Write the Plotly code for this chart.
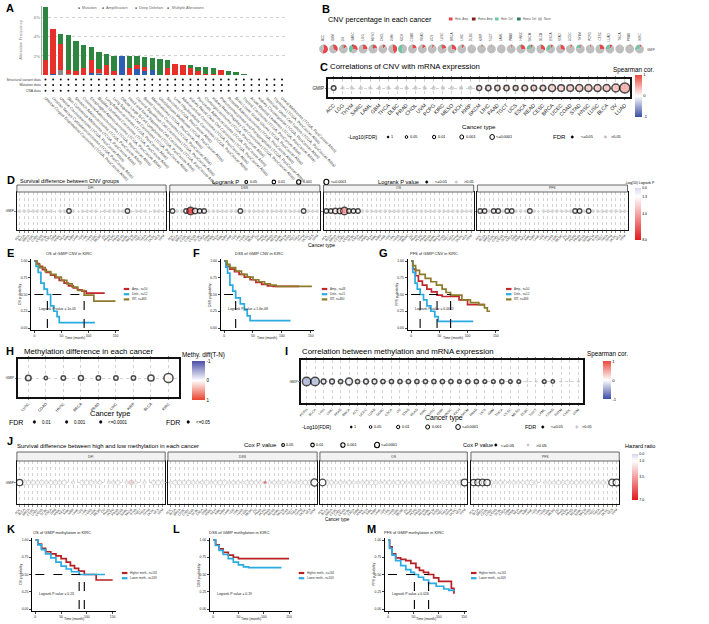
import plotly.graph_objects as go

W, H = 709, 624
FONT = "Liberation Sans, Arial, sans-serif"

# ======================= DATA =======================
# ---- A: alteration frequency (cBioPortal) ----
A_studies = [
    "Uterine Corpus Endometrial Carcinoma (TCGA, PanCancer Atlas)",
    "Ovarian Serous Cystadenocarcinoma (TCGA, PanCancer Atlas)",
    "Uterine Carcinosarcoma (TCGA, PanCancer Atlas)",
    "Skin Cutaneous Melanoma (TCGA, PanCancer Atlas)",
    "Stomach Adenocarcinoma (TCGA, PanCancer Atlas)",
    "Colorectal Adenocarcinoma (TCGA, PanCancer Atlas)",
    "Esophageal Adenocarcinoma (TCGA, PanCancer Atlas)",
    "Bladder Urothelial Carcinoma (TCGA, PanCancer Atlas)",
    "Lung Adenocarcinoma (TCGA, PanCancer Atlas)",
    "Lung Squamous Cell Carcinoma (TCGA, PanCancer Atlas)",
    "Diffuse Large B-Cell Lymphoma (TCGA, PanCancer Atlas)",
    "Head and Neck Squamous Cell Carcinoma (TCGA, PanCancer Atlas)",
    "Cervical Squamous Cell Carcinoma (TCGA, PanCancer Atlas)",
    "Breast Invasive Carcinoma (TCGA, PanCancer Atlas)",
    "Mesothelioma (TCGA, PanCancer Atlas)",
    "Glioblastoma Multiforme (TCGA, PanCancer Atlas)",
    "Sarcoma (TCGA, PanCancer Atlas)",
    "Liver Hepatocellular Carcinoma (TCGA, PanCancer Atlas)",
    "Adrenocortical Carcinoma (TCGA, PanCancer Atlas)",
    "Kidney Renal Clear Cell Carcinoma (TCGA, PanCancer Atlas)",
    "Pancreatic Adenocarcinoma (TCGA, PanCancer Atlas)",
    "Cholangiocarcinoma (TCGA, PanCancer Atlas)",
    "Kidney Renal Papillary Cell Carcinoma (TCGA, PanCancer Atlas)",
    "Pheochromocytoma and Paraganglioma (TCGA, PanCancer Atlas)",
    "Prostate Adenocarcinoma (TCGA, PanCancer Atlas)",
    "Brain Lower Grade Glioma (TCGA, PanCancer Atlas)",
    "Thyroid Carcinoma (TCGA, PanCancer Atlas)",
    "Acute Myeloid Leukemia (TCGA, PanCancer Atlas)",
    "Kidney Chromophobe (TCGA, PanCancer Atlas)",
    "Testicular Germ Cell Tumors (TCGA, PanCancer Atlas)",
    "Thymoma (TCGA, PanCancer Atlas)",
    "Uveal Melanoma (TCGA, PanCancer Atlas)",
]
A_mutation = [5.6, 0.0, 1.05, 3.7, 3.15, 2.45, 1.33, 1.8, 1.15, 1.6, 0.0, 1.23, 1.0, 1.03, 1.3, 1.7,
              0.78, 0.0, 0.0, 0.25, 0.47, 0.7, 0.62, 0.0, 0.38, 0.35, 0.15, 0, 0, 0, 0, 0]
A_amplification = [1.5, 4.7, 2.8, 0.4, 0.45, 0.7, 1.37, 0.35, 1.05, 0.4, 0.0, 0.77, 0.4, 0.42, 0.0, 0.0,
                   0.77, 1.2, 1.1, 0.75, 0.4, 0.1, 0.15, 0.5, 0, 0, 0, 0, 0, 0, 0, 0]
A_deep_deletion = [0, 0.15, 0, 0, 0, 0, 0.2, 0.15, 0, 0, 2.0, 0, 0.6, 0.45, 0.5, 0,
                   0, 0, 0, 0, 0, 0, 0, 0, 0, 0, 0, 0, 0, 0, 0, 0]
A_multiple = [0.05, 0, 0.5, 0.15, 0, 0, 0, 0.1, 0, 0, 0, 0, 0, 0, 0, 0,
              0, 0, 0, 0, 0, 0, 0, 0, 0, 0, 0, 0, 0, 0, 0, 0]
A_rows = ["Structural variant data", "Mutation data", "CNA data"]
A_legend = ["Mutation", "Amplification", "Deep Deletion", "Multiple Alterations"]

# ---- B: CNV percentage pies ----
B_cancers = ["ACC", "GBM", "OV", "SARC", "LGG", "MESO", "CHOL", "UVM", "KICH", "COAD", "READ",
             "UCS", "LUSC", "BRCA", "LIHC", "DLBC", "KIRP", "TGCT", "LAML", "PAAD", "HNSC", "SKCM",
             "BLCA", "ESCA", "STAD", "UCEC", "THYM", "PCPG", "CESC", "LUAD", "THCA", "PRAD", "KIRC"]
B_hete_amp = [.55, .35, .15, .30, .25, .20, .12, .45, .05, .20, .15, .08, .22, .30, .10, .03, .06,
              .04, .02, .06, .25, .08, .30, .10, .30, .08, .06, .05, .25, .10, .03, .05, .08]
B_homo_amp = [0, .02, 0, .05, 0, 0, 0, 0, 0, 0, 0, 0, 0, 0, 0, 0, 0,
              0, 0, 0, 0, 0, 0, 0, 0, 0, 0, 0, 0, 0, 0, 0, 0]
B_hete_del = [.05, .05, .10, .35, .05, .10, .05, .05, .45, .05, .05, .04, .08, .05, .06, .03, .04,
              .02, .01, .04, .08, .25, .06, .30, .05, .04, .20, .03, .05, .25, .02, .03, .30]
B_homo_del = [0, 0, 0, .02, 0, 0, 0, 0, .02, 0, 0, 0, 0, 0, 0, 0, 0,
              0, 0, 0, 0, 0, 0, .02, 0, 0, 0, 0, 0, 0, 0, 0, 0]
B_none = [.40, .58, .75, .28, .70, .70, .83, .50, .48, .75, .80, .88, .70, .65, .84, .94, .90,
          .94, .97, .90, .67, .67, .64, .58, .65, .88, .74, .92, .70, .65, .95, .92, .62]
B_legend = ["Hete. Amp", "Homo. Amp", "Hete. Del", "Homo. Del", "None"]

# ---- C: CNV vs mRNA spearman ----
C_cancers = ["ACC", "LGG", "THYM", "SARC", "LAML", "GBM", "THCA", "DLBC", "PRAD", "CHOL", "UVM",
             "PCPG", "KIRC", "MESO", "KICH", "KIRP", "SKCM", "LIHC", "PAAD", "TGCT", "UCS", "ESCA",
             "READ", "CESC", "BRCA", "UCEC", "COAD", "STAD", "HNSC", "LUSC", "BLCA", "OV", "LUAD"]
C_cor = [-0.05, 0.02, 0.03, 0.05, 0.04, 0.05, 0.06, 0.08, 0.08, 0.10, 0.10, 0.10, 0.11, 0.12, 0.12,
         0.13, 0.20, 0.22, 0.24, 0.25, 0.26, 0.27, 0.28, 0.29, 0.30, 0.31, 0.32, 0.33, 0.34, 0.35,
         0.37, 0.42, 0.55]
C_mlog_fdr = [1.4, 0.3, 0.4, 0.5, 0.3, 0.4, 0.6, 0.5, 0.7, 0.6, 0.8, 0.7, 0.9, 0.8, 0.9, 1.0,
              2.5, 3.0, 3.0, 3.0, 2.2, 4.0, 4.0, 4.0, 10.0, 8.0, 8.0, 10.0, 10.0, 10.0, 10.0, 14.0, 30.0]

# ---- D: survival difference between CNV groups (-log10 logrank P) ----
TYPES33 = ["ACC", "BLCA", "BRCA", "CESC", "CHOL", "COAD", "DLBC", "ESCA", "GBM", "HNSC", "KICH",
           "KIRC", "KIRP", "LAML", "LGG", "LIHC", "LUAD", "LUSC", "MESO", "OV", "PAAD", "PCPG",
           "PRAD", "READ", "SARC", "SKCM", "STAD", "TGCT", "THCA", "THYM", "UCEC", "UCS", "UVM"]
D_facets = ["DFI", "DSS", "OS", "PFS"]
D_DFI = [0.3, 0.2, 0.5, 0.4, 0.2, 0.6, 0.3, 0.4, None, 0.5, 0.3, 1.9, 0.4, None, 0.6, 0.2, 0.5,
         0.3, None, 0.7, 0.4, 0.3, 0.2, 0.5, 1.6, None, 0.4, 0.3, 0.6, None, 0.5, 0.2, None]
D_DSS = [1.5, 0.4, 0.3, 1.6, 8.0, 2.0, 1.7, 1.5, 0.4, 0.3, 0.6, 0.5, 0.4, 0.3, 0.2, 1.4, 0.5,
         0.3, 0.4, 0.6, 0.2, 0.5, 0.3, 0.4, 0.3, 0.6, 0.2, 0.3, 0.4, 1.6, 0.5, 0.3, 0.2]
D_OS = [1.5, 1.6, 2.1, 2.3, 5.0, 1.8, 1.5, 1.4, 0.5, 0.4, 0.3, 0.6, 0.2, 0.4, 0.5, 0.3, 0.6,
        0.4, 0.2, 0.5, 0.3, 0.4, 0.6, 0.2, 0.3, 0.5, 0.4, 0.3, 0.6, 0.2, 0.4, 0.3, 0.5]
D_PFS = [1.5, 1.6, 0.4, 1.7, 1.5, 0.3, 1.4, 1.6, 0.5, 0.3, 0.4, 1.8, 0.2, None, 0.5, 0.3, 0.6,
         0.4, 0.2, 0.5, 0.3, 1.5, 1.6, 0.2, 1.4, 0.5, 0.4, 0.3, 0.6, 0.2, 0.4, 0.3, 0.5]

# ---- E/F/G: KM curves, CNV groups in KIRC ----
E_amp_t = [0, 4, 9, 15, 22, 30, 38, 46, 55, 63, 72, 80, 88, 96, 130]
E_amp_s = [1, 0.96, 0.92, 0.87, 0.83, 0.79, 0.75, 0.71, 0.67, 0.63, 0.60, 0.57, 0.55, 0.52, 0.52]
E_del_t = [0, 3, 7, 12, 18, 24, 30, 36, 42, 46, 112]
E_del_s = [1, 0.92, 0.83, 0.67, 0.58, 0.50, 0.33, 0.25, 0.17, 0.08, 0.08]
E_wt_t = [0, 5, 10, 20, 30, 40, 50, 60, 70, 80, 92, 110, 150]
E_wt_s = [1, 0.95, 0.90, 0.84, 0.80, 0.76, 0.71, 0.66, 0.61, 0.56, 0.49, 0.40, 0.40]

F_amp_t = [0, 4, 10, 18, 26, 35, 45, 55, 65, 75, 85, 130]
F_amp_s = [1, 0.92, 0.88, 0.84, 0.80, 0.76, 0.72, 0.68, 0.65, 0.63, 0.62, 0.62]
F_del_t = [0, 3, 6, 10, 15, 20, 28, 35, 40, 45, 115]
F_del_s = [1, 0.91, 0.82, 0.64, 0.55, 0.45, 0.36, 0.27, 0.18, 0.11, 0.11]
F_wt_t = [0, 5, 10, 20, 30, 40, 50, 60, 70, 80, 90, 152]
F_wt_s = [1, 0.95, 0.90, 0.85, 0.80, 0.76, 0.72, 0.69, 0.66, 0.64, 0.62, 0.62]

G_amp_t = [0, 3, 8, 13, 20, 28, 36, 46, 55, 80, 85, 100, 130]
G_amp_s = [1, 0.88, 0.78, 0.70, 0.64, 0.58, 0.54, 0.49, 0.47, 0.47, 0.42, 0.35, 0.35]
G_del_t = [0, 3, 7, 11, 16, 22, 28, 35, 42, 48, 110]
G_del_s = [1, 0.83, 0.67, 0.58, 0.50, 0.42, 0.33, 0.25, 0.17, 0.10, 0.10]
G_wt_t = [0, 3, 8, 15, 25, 35, 45, 55, 62, 70, 90, 105, 120, 130, 135, 140]
G_wt_s = [1, 0.93, 0.86, 0.80, 0.74, 0.69, 0.64, 0.58, 0.53, 0.49, 0.42, 0.38, 0.35, 0.30, 0.25, 0.25]

EFG_names = ["Amp., n=50", "Dele., n=12", "WT, n=468"]
F_names = ["Amp., n=48", "Dele., n=11", "WT, n=460"]

# ---- H: methylation difference ----
H_types = ["LUSC", "COAD", "HNSC", "BRCA", "PRAD", "LIHC", "KIRP", "BLCA", "KIRC"]
H_diff = [0.02, 0.01, 0.02, 0.03, 0.02, 0.02, 0.03, 0.04, 0.05]
H_mlog_fdr = [6.0, 2.2, 4.0, 5.0, 4.0, 4.0, 4.0, 7.0, 12.0]

# ---- I: methylation vs mRNA ----
I_types = ["PCPG", "BLCA", "LGG", "LIHC", "PAAD", "BRCA", "ACC", "UCEC", "LUAD", "SARC", "ESCA",
           "OV", "STAD", "READ", "KIRC", "LUSC", "KIRP", "HNSC", "KICH", "SKCM", "PRAD", "UCS",
           "GBM", "THCA", "CESC", "MESO", "DLBC", "TGCT", "LAML", "COAD", "THYM", "CHOL", "UVM"]
I_cor = [-0.50, -0.45, -0.12, -0.10, -0.10, -0.12, -0.08, -0.10, -0.08, -0.10, -0.10, -0.08,
         -0.08, -0.10, -0.08, -0.08, -0.10, -0.08, -0.10, -0.08, -0.06, -0.08, -0.06, -0.06,
         -0.06, -0.06, -0.05, -0.05, -0.06, -0.06, -0.04, -0.04, -0.02]
I_mlog_fdr = [12, 12, 5, 5, 4, 9, 4, 5, 5, 4, 4, 4, 4, 4, 4, 4, 4, 4, 3, 4, 4, 3, 3, 4, 3, 3,
              0.8, 0.9, 3, 2.5, 1.0, 0.5, 0.7]

# ---- J: survival between high/low methylation (-log10 cox P, hazard ratio) ----
J_DFI_p = [1.5, 0.9, 0.7, 0.8, 0.6, 0.9, 0.5, 0.7, 0.8, 0.6, 0.9, None, 0.3, None, 0.7, 0.9, 0.8,
           0.4, 0.6, None, 0.3, 0.5, 0.8, None, 0.4, 0.9, 0.3, None, 0.4, None, 0.7, 0.9, 0.5]
J_DFI_hr = [1.0, 1.1, 0.9, 1.2, 1.0, 0.9, 1.1, 1.0, 1.2, 0.9, 1.0, None, 1.1, None, 0.9, 1.0, 1.1,
            1.0, 0.9, None, 1.0, 1.2, 0.9, None, 1.0, 2.6, 1.1, None, 1.0, None, 0.9, 1.1, 1.0]
J_DSS_p = [0.3, 0.8, 0.9, 0.7, 0.8, 0.6, 0.4, 0.5, 0.9, 0.3, 0.7, 0.8, 0.9, 0.4, 0.6, 0.5, 0.3,
           0.8, 0.7, 0.6, 0.5, 0.3, 0.4, 0.6, 0.5, 0.7, 0.4, 0.3, 0.5, 0.6, 0.8, 0.9, 1.8]
J_DSS_hr = [1.0, 1.1, 0.9, 1.0, 1.1, 1.0, 0.9, 1.0, 1.1, 1.0, 0.9, 1.0, 1.1, 1.0, 0.9, 1.0, 1.1,
            1.0, 0.9, 1.0, 1.1, 6.0, 0.9, 1.0, 1.1, 1.0, 0.9, 1.0, 1.1, 1.0, 0.9, 1.0, 1.0]
J_OS_p = [1.6, 0.9, 0.7, 0.4, 0.6, 0.3, 0.8, 0.4, 0.3, 0.5, 0.7, 0.9, 0.8, 0.3, 0.5, 0.7, 0.4,
          0.8, 0.6, 0.3, 0.5, 0.7, 0.6, 0.4, 0.3, 0.5, 0.6, 0.4, 0.7, 0.8, 0.6, 0.9, 1.7]
J_OS_hr = [1.0, 1.1, 0.9, 1.0, 1.1, 1.0, 0.9, 1.0, 1.1, 1.0, 0.9, 1.0, 1.1, 1.0, 0.9, 1.0, 1.1,
           1.0, 0.9, 1.0, 1.1, 1.0, 0.9, 1.0, 1.1, 1.0, 0.9, 1.0, 1.1, 1.0, 0.9, 1.0, 1.0]
J_PFS_p = [1.5, 1.6, 1.6, 1.5, 0.6, 0.4, 0.7, 0.5, 0.3, 0.6, 0.4, 0.5, 0.8, 0.9, 0.4, None, 0.3,
           0.5, 0.4, 0.7, 0.6, 0.8, 0.5, 0.7, 0.4, 0.6, 0.5, 0.7, 0.4, 0.6, 0.5, 1.6, 1.7]
J_PFS_hr = [1.0, 1.1, 0.9, 1.0, 1.1, 1.0, 0.9, 1.0, 1.1, 1.0, 0.9, 1.0, 1.1, 1.0, 0.9, None, 1.1,
            1.0, 0.9, 1.0, 1.1, 1.0, 0.9, 1.0, 1.1, 1.0, 0.9, 1.0, 1.1, 1.0, 0.9, 1.0, 1.0]

# ---- K/L/M: KM by methylation level in KIRC ----
K_hi_t = [0, 5, 12, 20, 30, 40, 50, 60, 68, 76, 84, 95, 118, 150]
K_hi_s = [1, 0.94, 0.88, 0.83, 0.80, 0.77, 0.73, 0.68, 0.63, 0.59, 0.55, 0.50, 0.42, 0.42]
K_lo_t = [0, 5, 12, 20, 30, 40, 50, 60, 70, 85, 135]
K_lo_s = [1, 0.93, 0.86, 0.80, 0.74, 0.68, 0.62, 0.58, 0.54, 0.50, 0.50]
L_hi_t = [0, 5, 12, 20, 30, 40, 50, 150]
L_hi_s = [1, 0.93, 0.87, 0.82, 0.78, 0.75, 0.73, 0.73]
L_lo_t = [0, 5, 12, 20, 30, 40, 50, 60, 70, 135]
L_lo_s = [1, 0.92, 0.85, 0.79, 0.73, 0.68, 0.64, 0.61, 0.60, 0.60]
M_hi_t = [0, 3, 8, 15, 25, 35, 45, 55, 62, 70, 80, 90, 100, 120, 125, 130]
M_hi_s = [1, 0.90, 0.80, 0.74, 0.72, 0.70, 0.66, 0.60, 0.56, 0.53, 0.50, 0.45, 0.40, 0.40, 0.30, 0.22]
M_lo_t = [0, 3, 8, 15, 25, 35, 45, 52, 60, 70, 80, 95, 110, 120, 130]
M_lo_s = [1, 0.88, 0.78, 0.70, 0.63, 0.57, 0.53, 0.50, 0.46, 0.42, 0.37, 0.33, 0.29, 0.27, 0.26]
K_names = ["Higher meth., n=161", "Lower meth., n=169"]
L_names = ["Higher meth., n=161", "Lower meth., n=163"]
M_names = ["Higher meth., n=161", "Lower meth., n=169"]

# ======================= HELPERS =======================
fig = go.Figure()
lay = {}
shapes, annots = [], []


def px(x):
    return x / W


def py(y):
    return 1 - y / H


_cnt = [0]


def new_axes(x0, x1, y0, y1, xkw=None, ykw=None):
    _cnt[0] += 1
    k = _cnt[0]
    s = '' if k == 1 else str(k)
    base = dict(showgrid=False, zeroline=False, showticklabels=False, ticks='', fixedrange=True)
    xa = dict(base)
    xa.update(domain=[px(x0), px(x1)], anchor='y' + s)
    xa.update(xkw or {})
    ya = dict(base)
    ya.update(domain=[py(y1), py(y0)], anchor='x' + s)
    ya.update(ykw or {})
    lay['xaxis' + s] = xa
    lay['yaxis' + s] = ya
    return 'x' + s, 'y' + s


def txt(x, y, s, size=5, color='#000', xa='left', ya='middle', angle=0):
    annots.append(dict(x=px(x), y=py(y), xref='paper', yref='paper', text=s, showarrow=False,
                       font=dict(size=size, color=color, family=FONT), xanchor=xa, yanchor=ya,
                       textangle=angle, borderpad=0))


def rect(x0, y0, x1, y1, fill='rgba(0,0,0,0)', line='#000', lw=1):
    shapes.append(dict(type='rect', xref='paper', yref='paper', x0=px(x0), x1=px(x1),
                       y0=py(y1), y1=py(y0), fillcolor=fill, line=dict(color=line, width=lw)))


def circ(cx, cy, d, fill='#fff', line='#000', lw=1.0):
    r = d / 2
    shapes.append(dict(type='circle', xref='paper', yref='paper', x0=px(cx - r), x1=px(cx + r),
                       y0=py(cy + r), y1=py(cy - r), fillcolor=fill,
                       line=dict(color=line, width=lw)))


def hline(x0, x1, y, color, lw=1.5):
    shapes.append(dict(type='line', xref='paper', yref='paper', x0=px(x0), x1=px(x1),
                       y0=py(y), y1=py(y), line=dict(color=color, width=lw)))


def letter(x, y, ch):
    txt(x, y, "<b>%s</b>" % ch, size=11)


def cbar(x, ytop, length, thick, tickvals, ticktext, fs=4):
    return dict(x=px(x), xanchor='left', y=py(ytop), yanchor='top', len=length, lenmode='pixels',
                thickness=thick, thicknessmode='pixels', tickvals=tickvals, ticktext=ticktext,
                tickfont=dict(size=fs, family=FONT), outlinewidth=0, xpad=0, ypad=0, ticks='')


GRID = dict(showgrid=True, gridcolor='#d3d3d3', griddash='dot', gridwidth=0.6)


def dot_axes(x0, x1, y0, y1, cats, tickfs, ylab=True, yfs=4, lw=1.6, xlabs=True):
    n = len(cats)
    xk = dict(type='category', categoryorder='array', categoryarray=cats, range=[-0.6, n - 0.4],
              dtick=1, showticklabels=xlabs, tickangle=-45, tickfont=dict(size=tickfs, color='#222'),
              ticks='outside', ticklen=1.5, tickcolor='#888', tickwidth=0.5,
              showline=True, linecolor='#111', linewidth=lw, mirror='ticks')
    xk.update(GRID)
    yk = dict(type='category', range=[-0.8, 0.8], showticklabels=ylab,
              tickfont=dict(size=yfs, color='#222'), ticks='outside', ticklen=1.5, tickcolor='#888',
              showline=True, linecolor='#111', linewidth=lw, mirror=True)
    yk.update(GRID)
    return new_axes(x0, x1, y0, y1, xk, yk)


def dots(xa, ya, cats, mlog, colvals, thr, size_fn, cs, cmin, cmax, ns_fill=None, ns_line='#BDBDBD',
         ns_lw=0.8, sig_lw=1.4, colorbar=None, tf=lambda v: v):
    groups = {True: ([], [], []), False: ([], [], [])}
    for c, m, v in zip(cats, mlog, colvals):
        if m is None:
            continue
        g = groups[m >= thr]
        g[0].append(c)
        g[1].append(size_fn(m))
        g[2].append(tf(v))
    xs, ss, cc = groups[False]
    if xs:
        col = ns_fill if ns_fill else cc
        fig.add_trace(go.Scatter(x=xs, y=['GMIP'] * len(xs), mode='markers', xaxis=xa, yaxis=ya,
                                 hoverinfo='skip',
                                 marker=dict(size=ss, color=col, colorscale=cs, cmin=cmin, cmax=cmax,
                                             line=dict(color=ns_line, width=ns_lw))))
    xs, ss, cc = groups[True]
    mk = dict(size=ss, color=cc, colorscale=cs, cmin=cmin, cmax=cmax,
              line=dict(color='#000', width=sig_lw))
    if colorbar:
        mk.update(showscale=True, colorbar=colorbar)
    fig.add_trace(go.Scatter(x=xs, y=['GMIP'] * len(xs), mode='markers', xaxis=xa, yaxis=ya,
                             hoverinfo='skip', marker=mk))


def median_time(t, s):
    for ti, si in zip(t, s):
        if si <= 0.5:
            return ti
    return None


def km_panel(x0px, ppm, ytop, ybot, curves, title, ytitle, pval, leg_x, leg_y, title_x, ptxt_y):
    xr = [-6, 156]
    yr = [-0.03, 1.03]
    ppu = ybot - ytop
    axk = dict(showline=True, linecolor='#000', linewidth=1.3, ticks='outside', ticklen=2,
               tickwidth=0.7, showticklabels=True, tickfont=dict(size=3.4, color='#222'))
    xk = dict(axk)
    xk.update(range=xr, tickvals=[0, 50, 100, 150])
    yk = dict(axk)
    yk.update(range=yr, tickvals=[0, 0.25, 0.5, 0.75, 1.0],
              ticktext=['0.00', '0.25', '0.50', '0.75', '1.00'])
    xa, ya = new_axes(x0px + xr[0] * ppm, x0px + xr[1] * ppm,
                      ybot - yr[1] * ppu, ybot - yr[0] * ppu, xk, yk)
    meds = []
    for t, s, col, name in curves:
        fig.add_trace(go.Scatter(x=t, y=s, mode='lines', line=dict(shape='hv', color=col, width=1.7),
                                 xaxis=xa, yaxis=ya, hoverinfo='skip'))
        m = median_time(t, s)
        if m is not None:
            meds.append(m)
    if meds:
        fig.add_trace(go.Scatter(x=[0, max(meds)], y=[0.5, 0.5], mode='lines', xaxis=xa, yaxis=ya,
                                 line=dict(color='#000', width=1.1, dash='dash'), hoverinfo='skip'))
        for m in meds:
            fig.add_trace(go.Scatter(x=[m, m], y=[0, 0.5], mode='lines', xaxis=xa, yaxis=ya,
                                     line=dict(color='#000', width=1.1, dash='dash'),
                                     hoverinfo='skip'))
    annots.append(dict(x=4, y=ptxt_y, xref=xa, yref=ya, text="Logrank P value = " + pval,
                       showarrow=False, xanchor='left', yanchor='middle',
                       font=dict(size=3.4, family=FONT, color='#222')))
    for i, (t, s, col, name) in enumerate(curves):
        yy = leg_y + i * 5.2
        hline(leg_x, leg_x + 6, yy, col, 2.2)
        txt(leg_x + 8, yy, name, size=3, color='#333')
    txt(title_x, ytop - 8, title, size=4, color='#222')
    txt(x0px - 16, (ytop + ybot) / 2, ytitle, size=3.4, color='#222', xa='center', angle=-90)
    txt(x0px + 75 * ppm, ybot + 10, "Time (month)", size=3.4, color='#222', xa='center')


# ======================= PANEL A =======================
letter(1, 8, "A")
nA = len(A_studies)
xa, ya = new_axes(40.9, 306, 5.6, 75,
                  dict(type='category', categoryorder='array', categoryarray=A_studies,
                       range=[-0.5, nA - 0.5]),
                  dict(range=[0, 7.3], showgrid=True, gridcolor='#cfcfcf', griddash='dot',
                       gridwidth=0.6, tickvals=[2, 4, 6], ticktext=['2%', '4%', '6%'],
                       showticklabels=True, tickfont=dict(size=4.3, color='#777'),
                       showline=True, linecolor='#aaa', linewidth=0.6))
for vals, col in [(A_deep_deletion, '#2F5FB3'), (A_multiple, '#8E8E8E'),
                  (A_amplification, '#E8302A'), (A_mutation, '#2E8540')]:
    fig.add_trace(go.Bar(x=A_studies, y=vals, width=0.72, xaxis=xa, yaxis=ya, hoverinfo='skip',
                         marker=dict(color=col, line=dict(width=0))))
txt(17, 40, "Alteration Frequency", size=4.3, color='#888', xa='center', angle=-90)
for lab, xx in zip(A_legend, [81, 107, 143, 178]):
    txt(xx, 8, "●", size=3.5, color='#222', xa='center')
    txt(xx + 3, 8, lab, size=3.8, color='#666')

xr_, yr_ = new_axes(40.9, 306, 76, 94,
                    dict(type='category', categoryorder='array', categoryarray=A_studies,
                         range=[-0.5, nA - 0.5], dtick=1, showticklabels=True, tickangle=45,
                         tickfont=dict(size=4, color='#444')),
                    dict(type='category', categoryorder='array', categoryarray=A_rows[::-1],
                         range=[-0.6, 2.6], showticklabels=True, tickfont=dict(size=3.5, color='#444')))
for r in A_rows:
    fig.add_trace(go.Scatter(x=A_studies, y=[r] * nA, mode='markers', xaxis=xr_, yaxis=yr_,
                             hoverinfo='skip', marker=dict(size=2, color='#111')))

# ======================= PANEL B =======================
letter(344, 9, "B")
txt(351, 19, "CNV percentage in each cancer", size=7.3)
B_cols = ['#E8474B', '#7A1E1E', '#6CC6A4', '#2E7D5E', '#BEBEBE']
for lab, col, xx in zip(B_legend, B_cols, [483, 508, 533, 557, 580]):
    rect(xx, 17.5, xx + 4, 20.5, fill=col, line=col, lw=0)
    txt(xx + 5.5, 19, lab, size=2.8, color='#555')
nB = len(B_cancers)
for i, cname in enumerate(B_cancers):
    cx = 347 + i * (690 - 347) / (nB - 1)
    fig.add_trace(go.Pie(values=[B_hete_amp[i], B_homo_amp[i], B_hete_del[i], B_homo_del[i], B_none[i]],
                         labels=B_legend, sort=False, textinfo='none', hoverinfo='skip',
                         marker=dict(colors=B_cols, line=dict(width=0)),
                         domain=dict(x=[px(cx - 4.8), px(cx + 4.8)], y=[py(49 + 4.8), py(49 - 4.8)])))
    txt(cx, 42, cname, size=3, color='#444', xa='center', ya='bottom', angle=-90)
txt(697, 50, "GMIP", size=3, color='#444')

# ======================= PANEL C =======================
letter(342, 67, "C")
txt(353, 67, "Correlations of CNV with mRNA expression", size=7.8)
xc, yc = dot_axes(352, 680, 79, 97, C_cancers, 5.2, yfs=4.5)
CS_RWB = [[0, '#3C4DA5'], [0.5, '#FFFFFF'], [1, '#E9483B']]
dots(xc, yc, C_cancers, C_mlog_fdr, C_cor, 1.3, lambda m: 3 + 1.3 * m ** 0.5, CS_RWB, -1, 1,
     ns_fill='#BDBDBD', ns_line='#BDBDBD', ns_lw=0, sig_lw=1.5,
     colorbar=cbar(685, 75, 42, 7, [1, 0, -1], ['1', '0', '-1'], fs=4))
txt(707, 70, "Spearman cor.", size=6.3, xa='right')
txt(516, 127, "Cancer type", size=6.2, xa='center')
txt(372, 137, "-Log10(FDR)", size=5)
for xx, d, lab, fill in [(417, 1.8, "1", '#000'), (437, 2.8, "0.05", '#fff'), (467, 3.5, "0.01", '#fff'),
                         (497, 4.2, "0.001", '#fff'), (530, 5, "<=0.0001", '#fff')]:
    circ(xx, 137, d, fill=fill, lw=1.0)
    txt(xx + d / 2 + 1, 137, lab, size=3.8)
txt(595, 137, "FDR", size=6)
circ(617, 137, 2.6, fill='#000', lw=0.4)
txt(625, 137, "<=0.05", size=3.8)
circ(653, 137, 2.6, fill='#BDBDBD', line='#BDBDBD', lw=0.4)
txt(658, 137, ">0.05", size=3.8)

# ======================= PANEL D =======================
letter(2, 180, "D")
txt(16, 181, "Survival difference between CNV groups", size=5.5)
txt(225, 182, "Logrank P", size=6)
for xx, d, lab in [(263, 3, "0.05"), (293, 3.8, "0.01"), (320, 4.6, "0.001"), (350, 5.4, "<=0.0001")]:
    circ(xx, 182, d, fill='#fff', lw=1.1)
    txt(xx + d / 2 + 1, 182, lab, size=3.6)
txt(405, 182, "Logrank P value", size=5.7)
circ(459, 182, 2.6, fill='#000', lw=0.4)
txt(467, 182, "<=0.05", size=3.8)
circ(491, 182, 2.6, fill='#C8C8C8', line='#C8C8C8', lw=0.4)
txt(498, 182, ">0.05", size=3.8)
txt(708, 183, "-Log(10) Logrank P", size=3.4, xa='right')
CS_D = [[0, '#E31A1C'], [0.8375, '#FFFFFF'], [1, '#DCD6F0']]
D_pos = [(14, 176), (180, 343), (347, 510), (514, 677)]
for fi, (name, vals, (x0, x1)) in enumerate(zip(D_facets, [D_DFI, D_DSS, D_OS, D_PFS], D_pos)):
    rect(x0, 185, x1, 192, fill='#F2F2F2', line='#444', lw=0.8)
    txt((x0 + x1) / 2, 188.5, name, size=3.4, xa='center', color='#333')
    xd, yd = dot_axes(x0, x1, 192, 230, TYPES33, 3.1, ylab=(fi == 0), yfs=3.1, lw=1.1)
    cb = cbar(685, 188, 52, 6, [0, -1.3, -4, -8], ['0.0', '1.3', '4.0', '8.0'], fs=3.5) if fi == 0 else None
    dots(xd, yd, TYPES33, vals, vals, 1.3,
         lambda m: 3 if m < 1.3 else (4.5 if m < 2 else (5.5 if m < 3 else (6.5 if m < 4 else 7.5))),
         CS_D, -8, 0, ns_fill='#D4D4D4', ns_line='#C4C4C4', ns_lw=0.6, sig_lw=1.3,
         colorbar=cb, tf=lambda v: -v)
txt(345, 245, "Cancer type", size=5, xa='center')

# ======================= PANELS E / F / G =======================
RED, BLUE, OLIVE = '#C1272D', '#29ABE2', '#8C7B2B'
letter(2, 253, "E")
km_panel(33, 0.587, 261, 328,
         [(E_amp_t, E_amp_s, RED, EFG_names[0]), (E_del_t, E_del_s, BLUE, EFG_names[1]),
          (E_wt_t, E_wt_s, OLIVE, EFG_names[2])],
         "OS of GMIP CNV in KIRC", "OS probability", "1e-05", 130, 289, 45, 0.28)
letter(204, 253, "F")
km_panel(239, 0.627, 261, 328,
         [(F_amp_t, F_amp_s, RED, F_names[0]), (F_del_t, F_del_s, BLUE, F_names[1]),
          (F_wt_t, F_wt_s, OLIVE, F_names[2])],
         "DSS of GMIP CNV in KIRC", "DSS probability", "1.6e-08", 345, 289, 250, 0.28)
letter(406, 253, "G")
km_panel(442, 0.613, 261, 328,
         [(G_amp_t, G_amp_s, RED, EFG_names[0]), (G_del_t, G_del_s, BLUE, EFG_names[1]),
          (G_wt_t, G_wt_s, OLIVE, EFG_names[2])],
         "PFS of GMIP CNV in KIRC", "PFS probability", "0.0012", 545, 289, 440, 0.28)

# ======================= PANEL H =======================
letter(1, 351, "H")
txt(21, 351, "Methylation difference in each cancer", size=7.8)
xh, yh = dot_axes(15, 190, 359, 397, H_types, 3.8, yfs=3.2)
CS_H = [[0, '#E8432E'], [0.5, '#FFFFFF'], [1, '#4B4FA8']]
dots(xh, yh, H_types, H_mlog_fdr, H_diff, 1.3, lambda m: 2 + 0.6 * m, CS_H, -1, 1, sig_lw=1.5,
     colorbar=cbar(204, 361, 39, 13, [1, 0, -1], ['-1', '0', '1'], fs=4.5), tf=lambda v: -v)
txt(192, 355, "Methy. diff(T-N)", size=6.3)
txt(115, 413, "Cancer type", size=7.5, xa='center')
txt(4, 422, "FDR", size=7)
for xx, lab in [(33, "0.01"), (68, "0.001"), (105, "<=0.0001")]:
    circ(xx, 422, 2.8, fill='#000', lw=0.4)
    txt(xx + 7, 422, lab, size=4.5)
txt(175, 422, "FDR", size=7)
circ(200, 422, 2.8, fill='#000', lw=0.4)
txt(207, 422, "<=0.05", size=4.5)

# ======================= PANEL I =======================
letter(304, 351, "I")
txt(322, 351, "Correlation between methylation and mRNA expression", size=7.8)
xi, yi = dot_axes(323, 629, 360, 403, I_types, 3.4, yfs=3.2)
dots(xi, yi, I_types, I_mlog_fdr, I_cor, 1.3, lambda m: 2 + 0.55 * m, CS_RWB, -1, 1,
     ns_fill='#C8C8C8', ns_line='#C8C8C8', ns_lw=0, sig_lw=1.5,
     colorbar=cbar(650, 361, 38, 8, [1, 0, -1], ['1', '0', '-1'], fs=4.3))
txt(655, 354, "Spearman cor.", size=6.3, xa='center')
txt(478, 418, "Cancer type", size=7, xa='center')
txt(323, 427, "-Log10(FDR)", size=5)
for xx, d, lab, fill in [(377, 1.8, "1", '#000'), (398, 2.8, "0.05", '#fff'), (428, 3.5, "0.01", '#fff'),
                         (460, 4.2, "0.001", '#fff'), (493, 5, "<=0.0001", '#fff')]:
    circ(xx, 427, d, fill=fill, lw=1.0)
    txt(xx + d / 2 + 1, 427, lab, size=3.8)
txt(565, 427, "FDR", size=5.5)
circ(585, 427, 2.6, fill='#000', lw=0.4)
txt(593, 427, "<=0.05", size=3.8)
circ(622, 427, 2.6, fill='#C8C8C8', line='#C8C8C8', lw=0.4)
txt(627, 427, ">0.05", size=3.8)

# ======================= PANEL J =======================
letter(2, 441, "J")
txt(13, 446, "Survival difference between high and low methylation in each cancer", size=6)
txt(260, 445, "Cox P value", size=6)
for xx, d, lab in [(303, 3, "0.05"), (335, 3.8, "0.01"), (368, 4.6, "0.001"), (405, 5.4, "<=0.0001")]:
    circ(xx, 445, d, fill='#fff', lw=1.1)
    txt(xx + d / 2 + 1, 445, lab, size=3.8)
txt(497, 445, "Cox P value", size=5.6)
circ(534, 445, 2.6, fill='#000', lw=0.4)
txt(539, 445, "<=0.05", size=4.2)
circ(569, 445, 2.6, fill='#C8C8C8', line='#C8C8C8', lw=0.4)
txt(576, 445, ">0.05", size=4.2)
txt(708, 446, "Hazard ratio", size=5.6, xa='right')
CS_J = [[0, '#E31A1C'], [6 / 7, '#FFFFFF'], [1, '#D8D2EE']]
J_pos = [(14, 175), (178, 340), (343, 503), (507, 668)]
J_sets = [(J_DFI_p, J_DFI_hr), (J_DSS_p, J_DSS_hr), (J_OS_p, J_OS_hr), (J_PFS_p, J_PFS_hr)]
for fi, (name, (pv, hr), (x0, x1)) in enumerate(zip(D_facets, J_sets, J_pos)):
    rect(x0, 452, x1, 461, fill='#F2F2F2', line='#444', lw=0.8)
    txt((x0 + x1) / 2, 456.5, name, size=3.4, xa='center', color='#333')
    xj, yj = dot_axes(x0, x1, 461, 504, TYPES33, 3.1, ylab=(fi == 0), yfs=3.1, lw=1.1)
    cb = cbar(682, 454, 46, 6, [0, -1, -3.5, -7], ['0.0', '1.0', '3.5', '7.0'], fs=3.6) if fi == 0 else None
    dots(xj, yj, TYPES33, pv, hr, 1.3, lambda m: min(2.5 + 2.6 * m, 8), CS_J, -7, 0,
         ns_line='#BDBDBD', ns_lw=0.8, sig_lw=1.3, colorbar=cb, tf=lambda v: -v)
txt(347, 519, "Cancer type", size=4.5)

# ======================= PANELS K / L / M =======================
HRED, HBLUE = '#B52025', '#2AACE2'
letter(2, 529, "K")
km_panel(34, 0.56, 540, 609,
         [(K_hi_t, K_hi_s, HRED, K_names[0]), (K_lo_t, K_lo_s, HBLUE, K_names[1])],
         "OS of GMIP methylation in KIRC", "OS probability", "0.23", 128, 573, 30, 0.22)
letter(182, 529, "L")
km_panel(227, 0.55, 540, 609,
         [(L_hi_t, L_hi_s, HRED, L_names[0]), (L_lo_t, L_lo_s, HBLUE, L_names[1])],
         "DSS of GMIP methylation in KIRC", "DSS probability", "0.19", 320, 573, 222, 0.22)
letter(393, 529, "M")
km_panel(417, 0.55, 540, 609,
         [(M_hi_t, M_hi_s, HRED, M_names[0]), (M_lo_t, M_lo_s, HBLUE, M_names[1])],
         "PFS of GMIP methylation in KIRC", "PFS probability", "0.026", 507, 573, 412, 0.22)

# ======================= LAYOUT =======================
lay.update(width=W, height=H, margin=dict(l=0, r=0, t=0, b=0), paper_bgcolor='white',
           plot_bgcolor='white', showlegend=False, barmode='stack',
           font=dict(family=FONT, color='#000'), shapes=shapes, annotations=annots)
fig.update_layout(**lay)
fig.write_html("out.html")
